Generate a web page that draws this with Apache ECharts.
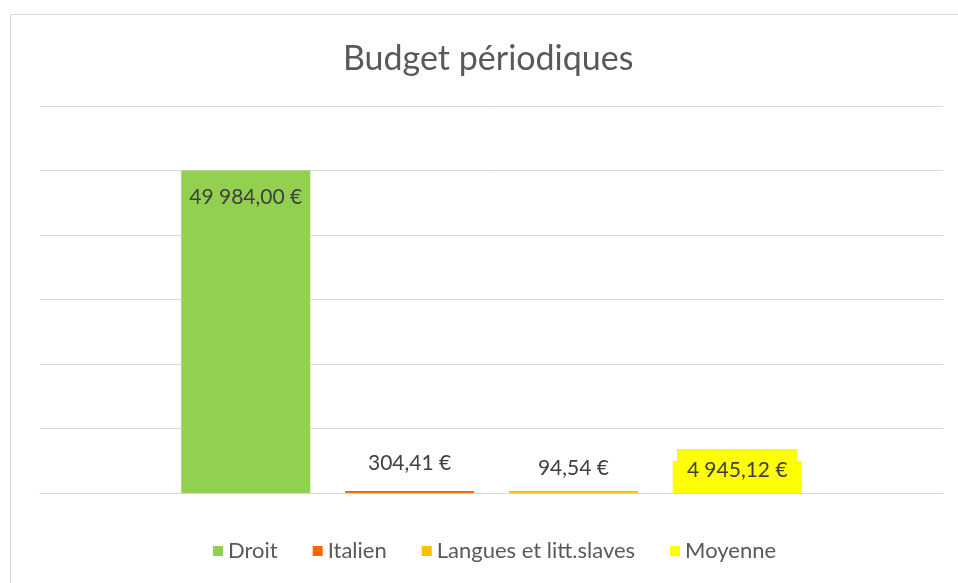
<!DOCTYPE html>
<html>
<head>
<meta charset="utf-8">
<script src="https://cdn.jsdelivr.net/npm/echarts@6/dist/echarts.min.js"></script>
<style>html,body{margin:0;padding:0;background:#fff}#c{width:958px;height:583px}</style>
</head>
<body>
<div id="c"></div>
<script>
const categories = ['Budget périodiques'];
const seriesNames = ['Droit', 'Italien', 'Langues et litt.slaves', 'Moyenne'];
const droitValues = [49984.00];
const italienValues = [304.41];
const languesValues = [94.54];
const moyenneValues = [4945.12];
const yTicks = [0, 10000, 20000, 30000, 40000, 50000, 60000];

const colors = ['#92D050', '#FF6600', '#FFC000', '#FFFF00'];
const font = 'Lato, "Open Sans", sans-serif';
function fmt(v) {
  const parts = v.toFixed(2).split('.');
  const intPart = parts[0].replace(/\B(?=(\d{3})+(?!\d))/g, '\u202F');
  return intPart + ',' + parts[1] + '\u00A0€';
}
const labelBase = {show: true, color: '#404040', fontSize: 21, fontFamily: font, formatter: p => fmt(p.value)};

const chart = echarts.init(document.getElementById('c'));
chart.setOption({
  animation: false,
  backgroundColor: '#fff',
  title: {
    text: 'Budget périodiques', left: 338, top: 37,
    textStyle: {color: '#595959', fontSize: 34, fontWeight: 'normal', fontFamily: font}
  },
  graphic: [{type: 'rect', left: 8, top: 12, shape: {width: 1000, height: 700}, style: {fill: 'none', stroke: '#D9D9D9', lineWidth: 1}, silent: true}],
  legend: {
    bottom: 16, left: 208, itemWidth: 10, itemHeight: 10, itemGap: 35,
    icon: 'rect',
    textStyle: {color: '#595959', fontSize: 22, fontFamily: font},
    data: seriesNames
  },
  grid: {left: 40, right: 15, top: 106, bottom: 90, containLabel: false},
  xAxis: {
    type: 'category', data: categories,
    axisLine: {show: true, lineStyle: {color: '#D9D9D9'}},
    axisTick: {show: false}, axisLabel: {show: false}
  },
  yAxis: {
    type: 'value', min: yTicks[0], max: yTicks[yTicks.length - 1], interval: 10000,
    axisLabel: {show: false}, axisLine: {show: false}, axisTick: {show: false},
    splitLine: {lineStyle: {color: '#D9D9D9', width: 1}}
  },
  series: [
    {name: seriesNames[0], type: 'bar', data: droitValues, barWidth: 129, barGap: '27%', itemStyle: {color: colors[0]},
     label: Object.assign({}, labelBase, {position: 'insideTop', distance: 16})},
    {name: seriesNames[1], type: 'bar', data: italienValues, barWidth: 129, barGap: '27%', barMinHeight: 2, itemStyle: {color: colors[1]},
     label: Object.assign({}, labelBase, {position: 'top', distance: 17})},
    {name: seriesNames[2], type: 'bar', data: languesValues, barWidth: 129, barGap: '27%', barMinHeight: 2, itemStyle: {color: colors[2]},
     label: Object.assign({}, labelBase, {position: 'top', distance: 12})},
    {name: seriesNames[3], type: 'bar', data: moyenneValues, barWidth: 129, barGap: '27%', itemStyle: {color: colors[3]},
     label: Object.assign({}, labelBase, {position: 'insideBottom', distance: 1, backgroundColor: '#FFFF00', padding: [11, 10, 11, 10]})}
  ]
});
</script>
</body>
</html>
